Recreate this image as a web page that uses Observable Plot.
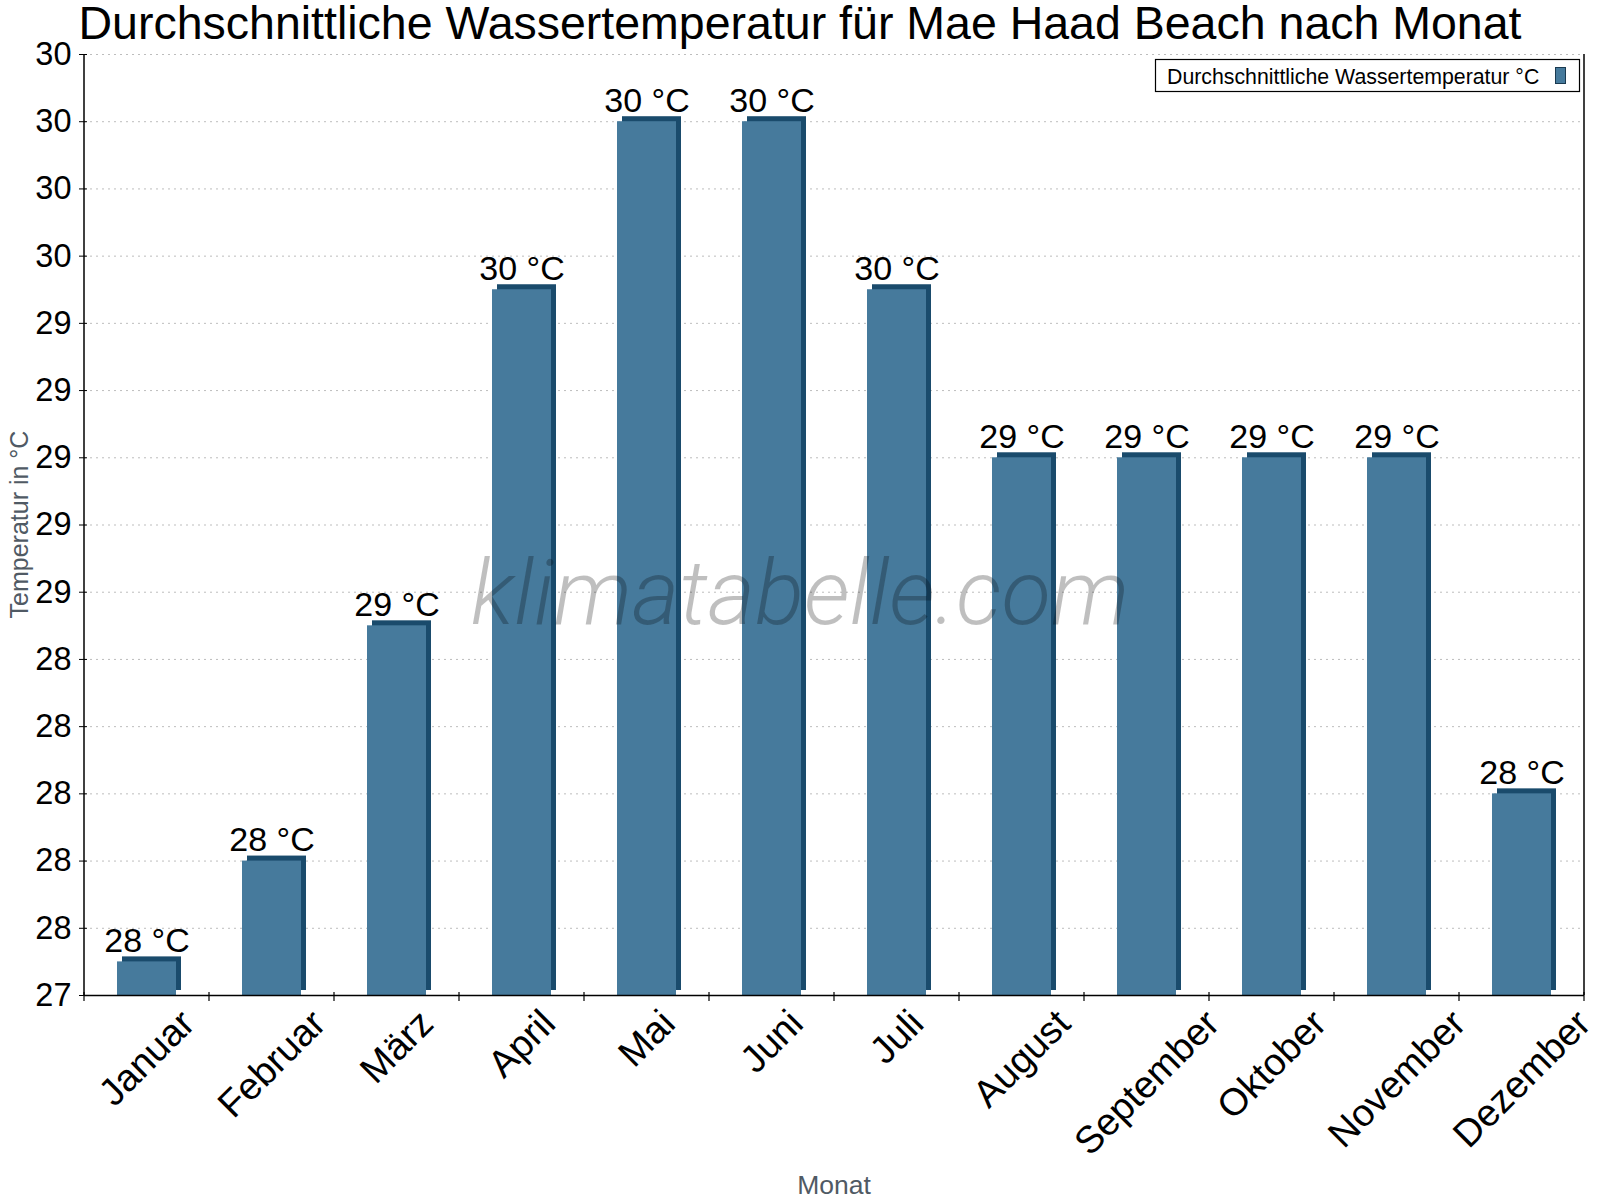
<!DOCTYPE html>
<html><head><meta charset="utf-8">
<script src="https://cdn.jsdelivr.net/npm/d3@7"></script>
<script src="https://cdn.jsdelivr.net/npm/@observablehq/plot@0.6"></script>
<style>body{margin:0;background:#fff} #chart{position:relative;width:1600px;height:1200px}</style>
</head><body><div id="chart"></div>
<script>
const title = "Durchschnittliche Wassertemperatur für Mae Haad Beach nach Monat";
const months = ["Januar","Februar","März","April","Mai","Juni","Juli","August","September","Oktober","November","Dezember"];
const waterTemp = [27.5, 27.8, 28.5, 29.5, 30, 30, 29.5, 29, 29, 29, 29, 28];
const yTicks = [27.4, 27.6, 27.8, 28, 28.2, 28.4, 28.6, 28.8, 29, 29.2, 29.4, 29.6, 29.8, 30, 30.2];
const seriesName = "Durchschnittliche Wassertemperatur °C";
const yLabel = "Temperatur in °C";
const xLabel = "Monat";
const watermark = "klimatabelle.com";

const data = months.map((m, i) => ({month: m, value: waterTemp[i]}));
const W = 1600, H = 1200, mL = 84, mR = 16, mT = 54, mB = 205;
const FACE = "#467a9c", SIDE = "#1a4b6c";
const FONT = "'Liberation Sans', Arial, sans-serif";
const monthFS = 38;
const ctx = document.createElement("canvas").getContext("2d");
ctx.font = `${monthFS}px ${FONT}`;
const half = m => (ctx.measureText(m).width + 0.716 * monthFS) * Math.SQRT1_2 / 2;
const yMin = yTicks[0];

const chart = Plot.plot({
  width: W, height: H, marginLeft: mL, marginRight: mR, marginTop: mT, marginBottom: mB,
  style: {fontFamily: FONT, background: "#fff", overflow: "visible"},
  x: {domain: months, padding: 0, axis: null},
  y: {domain: [yTicks[0], yTicks[yTicks.length - 1]], axis: null},
  marks: [
    Plot.gridY(yTicks, {stroke: "#bdbdbd", strokeOpacity: 1, strokeDasharray: "2,4"}),
    Plot.barY(data, {x: "month", y1: yMin, y2: "value", fill: SIDE, insetLeft: 33, insetRight: 33, dx: 5, dy: -5}),
    Plot.barY(data, {x: "month", y1: yMin, y2: "value", fill: FACE, insetLeft: 33, insetRight: 33}),
    Plot.text(data, {x: "month", y: "value", text: d => `${Math.round(d.value)} °C`, lineAnchor: "bottom", dy: -10, fontSize: 34, fill: "#000"}),
    Plot.axisY(yTicks, {tickSize: 8, dx: 3, tickPadding: 8, tickFormat: d => String(Math.round(d)), fontSize: 32.5, label: null, stroke: "#000", fill: "#000"}),
    ...months.map(m => Plot.text([m], {x: d => d, frameAnchor: "bottom", rotate: -45, textAnchor: "middle", lineAnchor: "middle", dy: 12 + half(m), fontSize: monthFS, fill: "#000"})),
    Plot.ruleY([yMin], {stroke: "#000", strokeWidth: 1.5})
  ]
});

document.getElementById("chart").appendChild(chart);
const svg = d3.select(chart);
const xs = chart.scale("x");
const yb = H - mB;
// side lines
svg.append("line").attr("x1", mL).attr("x2", mL).attr("y1", mT).attr("y2", yb).attr("stroke", "#000").attr("stroke-width", 1.5);
svg.append("line").attr("x1", W - mR).attr("x2", W - mR).attr("y1", mT).attr("y2", yb).attr("stroke", "#000").attr("stroke-width", 1.5);
// x ticks at band boundaries
const bounds = months.map(m => xs.apply(m)).concat([xs.apply(months[months.length - 1]) + xs.bandwidth]);
svg.append("g").selectAll("line").data(bounds).join("line")
  .attr("x1", d => d).attr("x2", d => d).attr("y1", yb - 3).attr("y2", yb + 6).attr("stroke", "#000").attr("stroke-width", 1.2);
// title
svg.append("text").attr("x", W / 2).attr("y", 39).attr("text-anchor", "middle")
  .style("font", `46.5px ${FONT}`).attr("fill", "#000").text(title);
// legend
const lg = svg.append("g");
lg.append("rect").attr("x", 1155.5).attr("y", 59.5).attr("width", 424).attr("height", 32).attr("fill", "#fff").attr("stroke", "#000").attr("stroke-width", 1.2);
lg.append("text").attr("x", 1167).attr("y", 84).attr("text-anchor", "start").style("font", `21.3px ${FONT}`).attr("fill", "#000").text(seriesName);
lg.append("rect").attr("x", 1555.5).attr("y", 67.5).attr("width", 10).attr("height", 16).attr("fill", FACE).attr("stroke", "#1a3a50").attr("stroke-width", 1);
// axis titles
svg.append("text").attr("transform", `translate(28,${(mT + yb) / 2}) rotate(-90)`).attr("text-anchor", "middle")
  .style("font", `25px ${FONT}`).attr("fill", "#505a64").text(yLabel);
svg.append("text").attr("x", (mL + W - mR) / 2).attr("y", 1194).attr("text-anchor", "middle")
  .style("font", `26.5px ${FONT}`).attr("fill", "#505a64").text(xLabel);
// watermark
svg.append("text").attr("x", 800).attr("y", 624).attr("text-anchor", "middle")
  .style("font", `italic 300 91px Roboto, 'Open Sans', sans-serif`).attr("fill", "rgba(0,0,0,0.25)").text(watermark);
</script></body></html>
